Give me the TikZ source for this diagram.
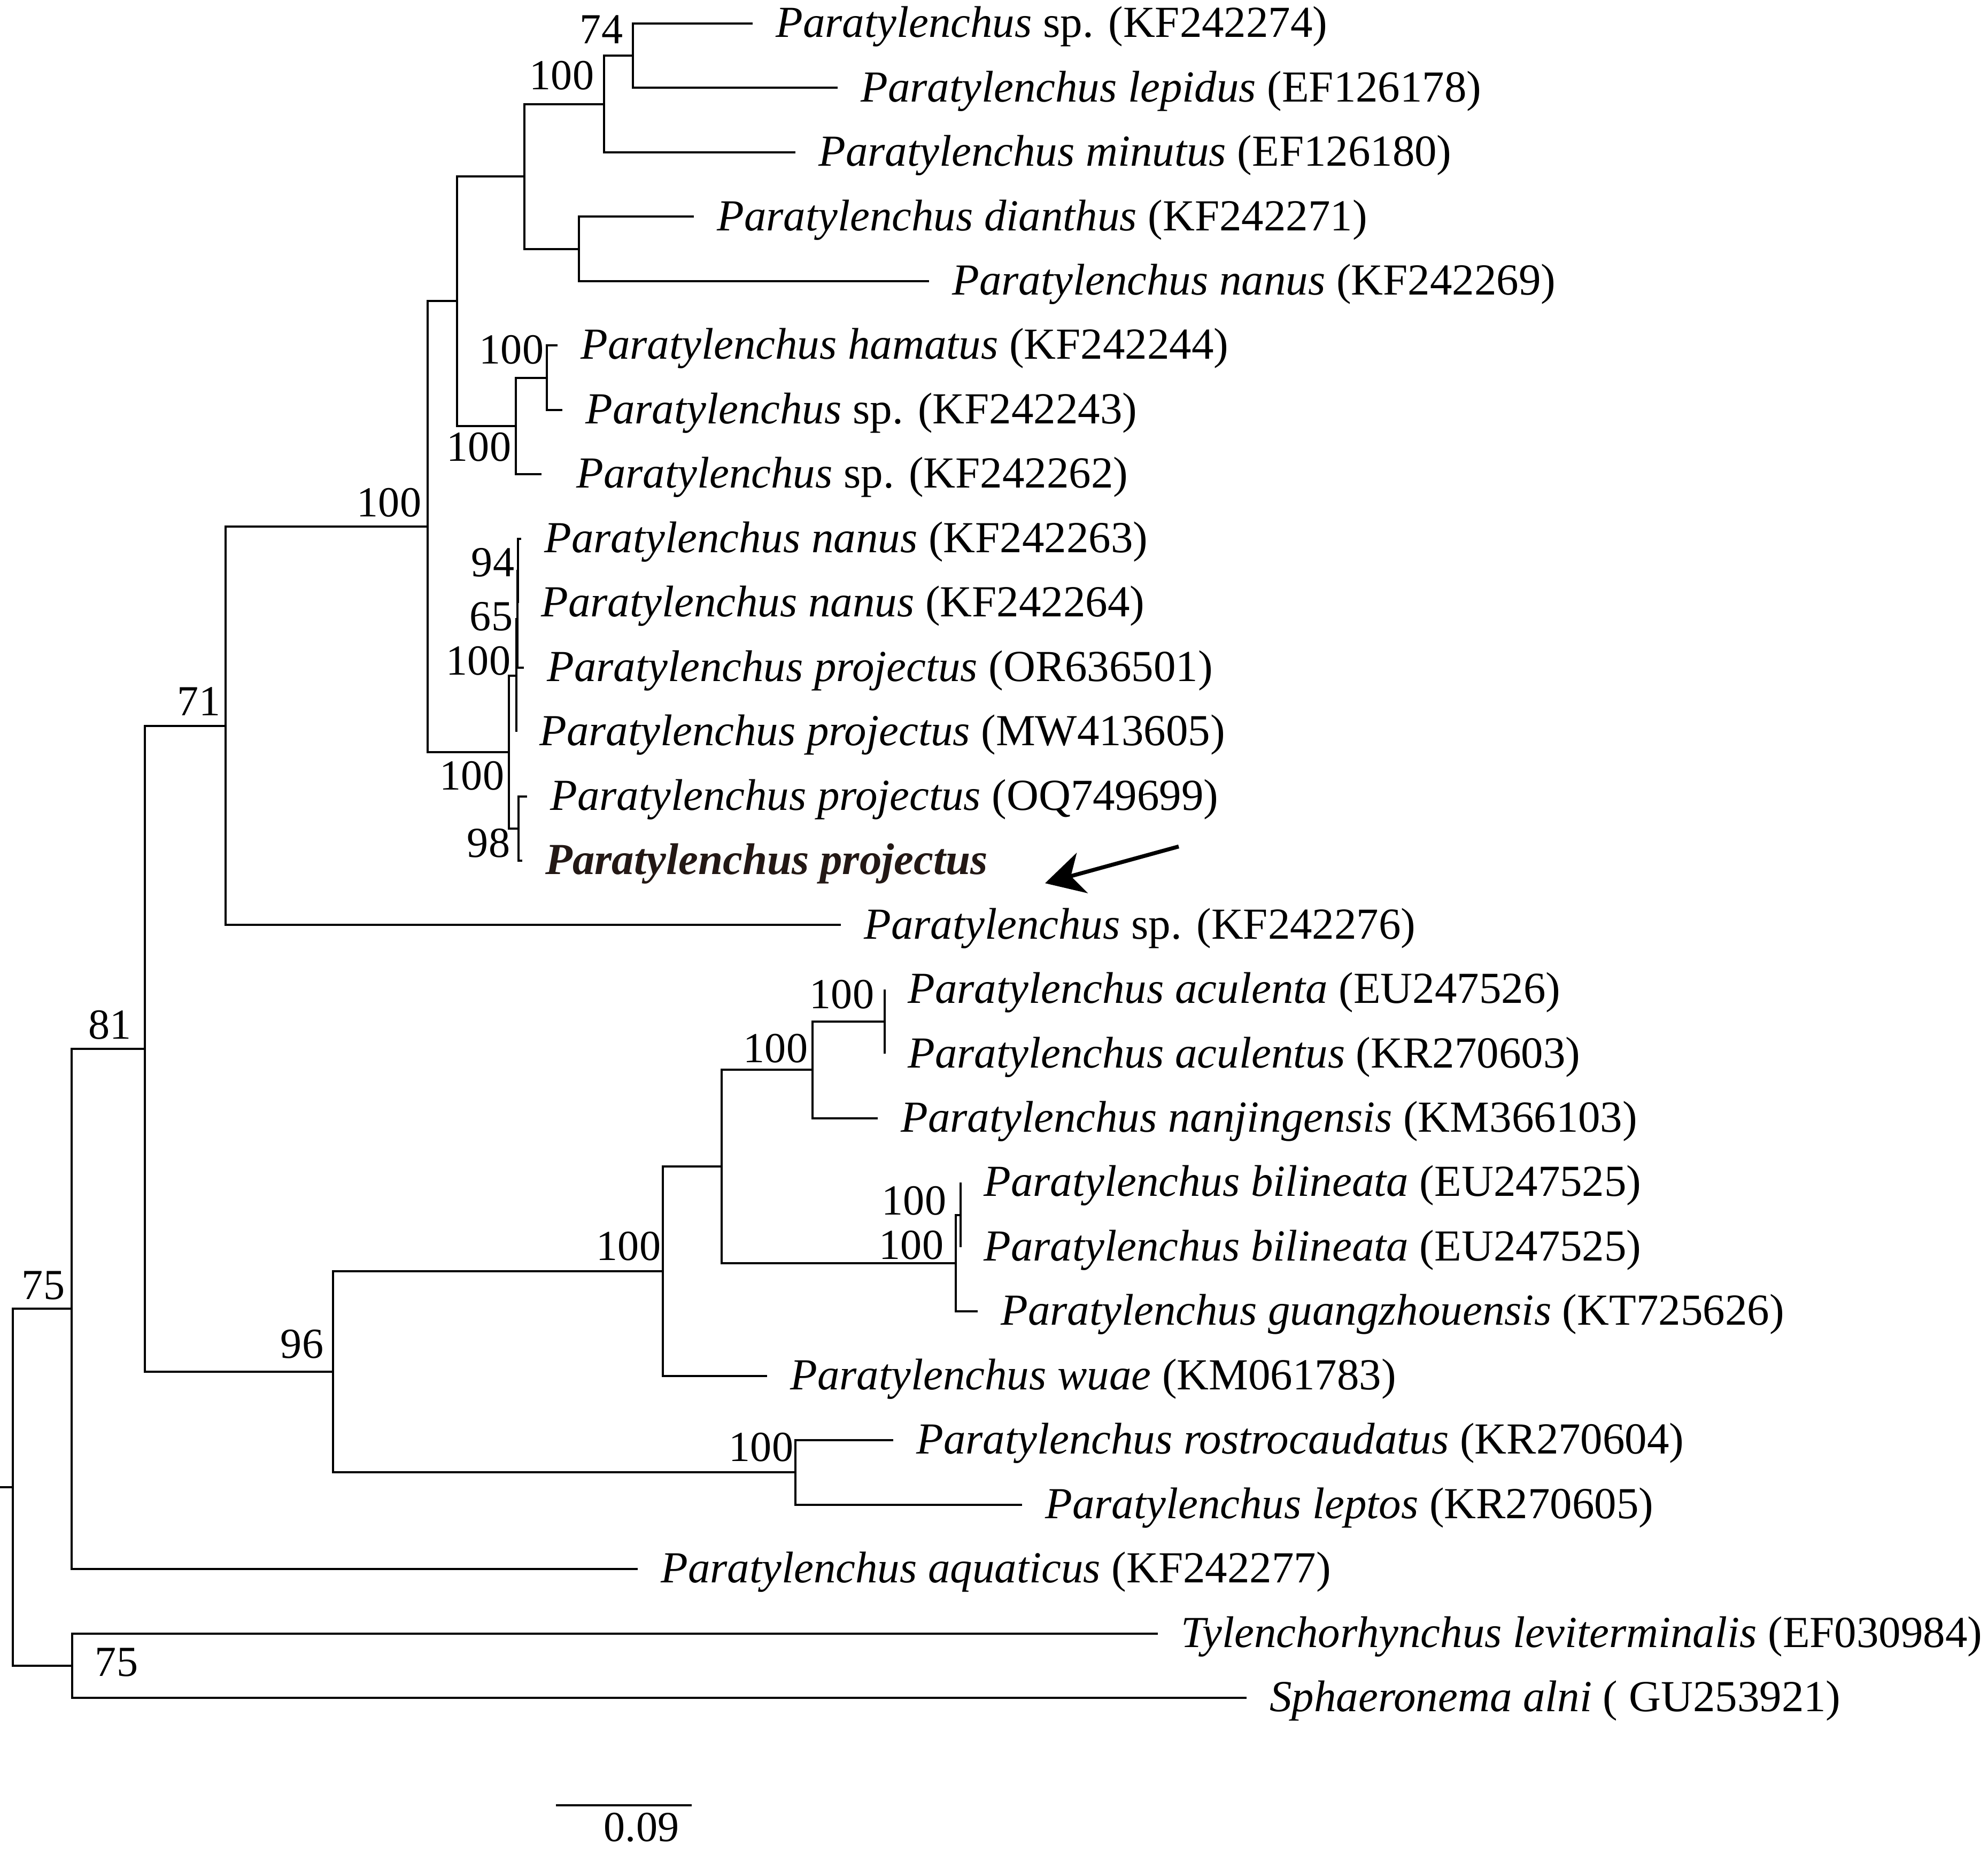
\documentclass[tikz,border=0pt]{standalone}
\usepackage{fontspec}
\setmainfont{Liberation Serif}
\definecolor{newSpecies}{HTML}{231815}
\usetikzlibrary{arrows.meta}

\begin{document}
\begin{tikzpicture}[x=0.5cm, y=-0.6023cm,
    branch/.style={line width=0.57pt},
    taxon/.style={anchor=west, inner xsep=0.21cm, inner ysep=0pt, text height=9.8pt, text depth=2.5pt, font=\fontsize{11.8}{13}\selectfont},
    support/.style={inner sep=0pt, font=\fontsize{11.4}{13}\selectfont}]
    \useasboundingbox (0,0.635) rectangle (37.19,29.44);

    % Taxa
    \node[taxon] (l1) at (14.08,1) {\textit{Paratylenchus} sp. (KF242274)};
    \node[taxon] (l2) at (15.67,2) {\textit{Paratylenchus lepidus} (EF126178)};
    \node[taxon] (l3) at (14.88,3) {\textit{Paratylenchus minutus} (EF126180)};
    \node[taxon] (l4) at (12.98,4) {\textit{Paratylenchus dianthus} (KF242271)};
    \node[taxon] (l5) at (17.38,5) {\textit{Paratylenchus nanus} (KF242269)};
    \node[taxon] (l6) at (10.43,6) {\textit{Paratylenchus hamatus} (KF242244)};
    \node[taxon] (l7) at (10.52,7) {\textit{Paratylenchus} sp. (KF242243)};
    \node[taxon, inner xsep=0.32cm] (l8) at (10.13,8) {\textit{Paratylenchus} sp. (KF242262)};
    \node[taxon] (l9) at (9.75,9) {\textit{Paratylenchus nanus} (KF242263)};
    \node[taxon] (l10) at (9.69,10) {\textit{Paratylenchus nanus} (KF242264)};
    \node[taxon] (l11) at (9.80,11) {\textit{Paratylenchus projectus} (OR636501)};
    \node[taxon] (l12) at (9.66,12) {\textit{Paratylenchus projectus} (MW413605)};
    \node[taxon] (l13) at (9.86,13) {\textit{Paratylenchus projectus} (OQ749699)};
    \node[taxon, text=newSpecies] (l14) at (9.77,14) {\textbf{\textit{Paratylenchus projectus}}};
    \node[taxon] (l15) at (15.73,15) {\textit{Paratylenchus} sp. (KF242276)};
    \node[taxon] (l16) at (16.55,16) {\textit{Paratylenchus aculenta} (EU247526)};
    \node[taxon] (l17) at (16.55,17) {\textit{Paratylenchus aculentus} (KR270603)};
    \node[taxon] (l18) at (16.42,18) {\textit{Paratylenchus nanjingensis} (KM366103)};
    \node[taxon] (l19) at (17.97,19) {\textit{Paratylenchus bilineata} (EU247525)};
    \node[taxon] (l20) at (17.97,20) {\textit{Paratylenchus bilineata} (EU247525)};
    \node[taxon] (l21) at (18.29,21) {\textit{Paratylenchus guangzhouensis} (KT725626)};
    \node[taxon] (l22) at (14.35,22) {\textit{Paratylenchus wuae} (KM061783)};
    \node[taxon] (l23) at (16.71,23) {\textit{Paratylenchus rostrocaudatus} (KR270604)};
    \node[taxon] (l24) at (19.12,24) {\textit{Paratylenchus leptos} (KR270605)};
    \node[taxon] (l25) at (11.93,25) {\textit{Paratylenchus aquaticus} (KF242277)};
    \node[taxon] (l26) at (21.66,26) {\textit{Tylenchorhynchus leviterminalis} (EF030984)};
    \node[taxon] (l27) at (23.32,27) {\textit{Sphaeronema alni} ( GU253921)};

    % Internal nodes
    \coordinate (n74) at (11.84,1.5);
    \coordinate (n100a) at (11.30,2.25);
    \coordinate (ndia) at (10.83,4.5);
    \coordinate (nA) at (9.81,3.375);
    \coordinate (nham) at (10.23,6.5);
    \coordinate (nham2) at (9.65,7.25);
    \coordinate (nB) at (8.55,5.3125);
    \coordinate (nE) at (9.69,9.5);
    \coordinate (nD) at (9.675,10.25);
    \coordinate (nBp) at (9.66,11.125);
    \coordinate (nC) at (9.70,13.5);
    \coordinate (nAp) at (9.52,12.3125);
    \coordinate (nbig) at (8.00,8.8125);
    \coordinate (n71) at (4.22,11.906);
    \coordinate (nacu) at (16.55,16.5);
    \coordinate (nnan) at (15.20,17.25);
    \coordinate (nbil) at (17.97,19.5);
    \coordinate (nguang) at (17.88,20.25);
    \coordinate (nX) at (13.50,18.75);
    \coordinate (nwu) at (12.40,20.375);
    \coordinate (nros) at (14.88,23.5);
    \coordinate (n96) at (6.23,21.9375);
    \coordinate (n81) at (2.71,16.92);
    \coordinate (n75) at (1.34,20.96);
    \coordinate (nout) at (1.35,26.5);
    \coordinate (root) at (0.24,23.73);
    \coordinate (rootStub) at (0,23.73);

    % Branches
    \draw[branch] (l1.west) -| (n74) |- (l2.west);
    \draw[branch] (n74) -| (n100a) |- (l3.west);
    \draw[branch] (l4.west) -| (ndia) |- (l5.west);
    \draw[branch] (n100a) -| (nA) |- (ndia);
    \draw[branch] (l6.west) -| (nham) |- (l7.west);
    \draw[branch] (nham) -| (nham2) |- (l8.west);
    \draw[branch] (nA) -| (nB) |- (nham2);
    \draw[branch] (l9.west) -| (nE) |- (l10.west);
    \draw[branch] (nE) -| (nD) |- (l11.west);
    \draw[branch] (nD) -| (nBp) |- (l12.west);
    \draw[branch] (l13.west) -| (nC) |- (l14.west);
    \draw[branch] (nBp) -| (nAp) |- (nC);
    \draw[branch] (nB) -| (nbig) |- (nAp);
    \draw[branch] (nbig) -| (n71) |- (l15.west);
    \draw[branch] (l16.west) -| (nacu) |- (l17.west);
    \draw[branch] (nacu) -| (nnan) |- (l18.west);
    \draw[branch] (l19.west) -| (nbil) |- (l20.west);
    \draw[branch] (nbil) -| (nguang) |- (l21.west);
    \draw[branch] (nnan) -| (nX) |- (nguang);
    \draw[branch] (nX) -| (nwu) |- (l22.west);
    \draw[branch] (l23.west) -| (nros) |- (l24.west);
    \draw[branch] (nwu) -| (n96) |- (nros);
    \draw[branch] (n71) -| (n81) |- (n96);
    \draw[branch] (n81) -| (n75) |- (l25.west);
    \draw[branch] (l26.west) -| (nout) |- (l27.west);
    \draw[branch] (n75) -| (root) |- (nout);
    \draw[branch] (rootStub) -- (root);

    % Bootstrap values
    \node[support] (b74) at (11.25,1.09) {74};
    \node[support] (b100a) at (10.51,1.81) {100};
    \node[support] (bham) at (9.57,6.07) {100};
    \node[support] (bham2) at (8.96,7.58) {100};
    \node[support] (bbig) at (7.28,8.44) {100};
    \node[support] (b94) at (9.22,9.37) {94};
    \node[support] (b65) at (9.19,10.21) {65};
    \node[support] (bBp) at (8.95,10.90) {100};
    \node[support] (bAp) at (8.83,12.68) {100};
    \node[support] (b98) at (9.14,13.73) {98};
    \node[support] (b71) at (3.72,11.53) {71};
    \node[support] (b81) at (2.06,16.55) {81};
    \node[support] (b75) at (0.81,20.60) {75};
    \node[support] (b96) at (5.65,21.51) {96};
    \node[support] (bwu) at (11.76,19.99) {100};
    \node[support] (bnan) at (14.51,16.92) {100};
    \node[support] (bacu) at (15.75,16.08) {100};
    \node[support] (bbil) at (17.10,19.28) {100};
    \node[support] (bguang) at (17.05,19.97) {100};
    \node[support] (bros) at (14.24,23.11) {100};
    \node[support] (bout) at (2.18,26.45) {75};

    % Arrow to the new sequence
    \coordinate (arrowTail) at (22.05,13.78);
    \coordinate (arrowHead) at (19.55,14.35);
    \draw[line width=1.05pt, -{Stealth[length=0.36cm, width=0.39cm, inset=0.11cm]}] (arrowTail) -- (arrowHead);

    % Scale bar
    \coordinate (scaleL) at (10.40,28.67);
    \coordinate (scaleR) at (12.94,28.67);
    \draw[branch] (scaleL) -- (scaleR);
    \node[support, anchor=base] (scaleText) at (12.00,29.23) {0.09};
\end{tikzpicture}
\end{document}
